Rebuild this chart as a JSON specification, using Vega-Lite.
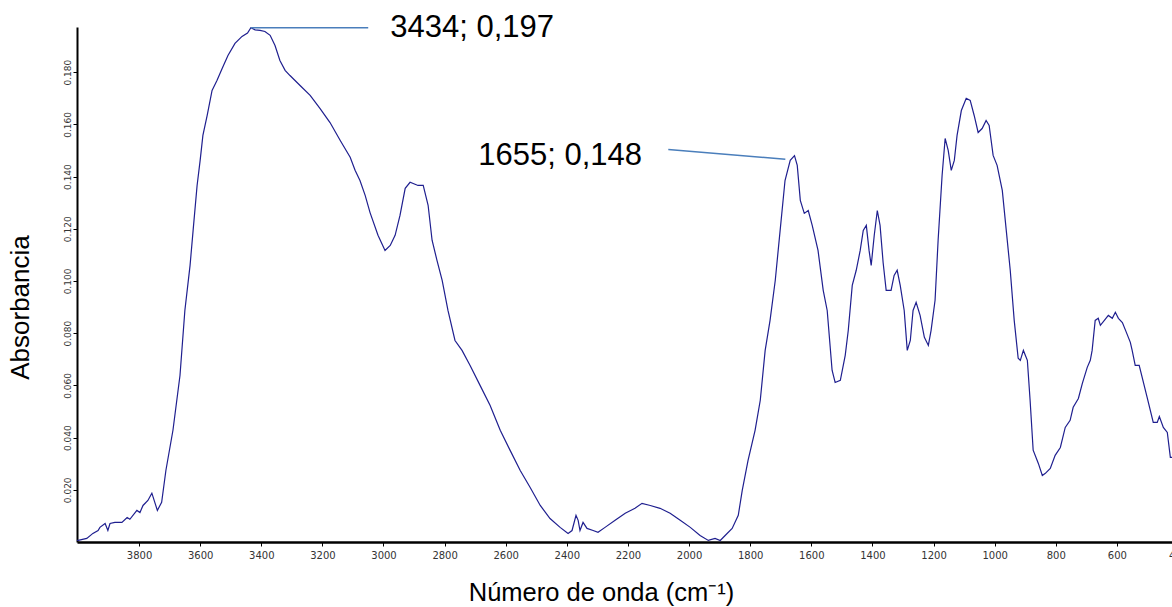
{
  "$schema": "https://vega.github.io/schema/vega-lite/v6.json",
  "width": 1095,
  "height": 515,
  "autosize": {"type": "none"},
  "padding": {"left": 77, "top": 27, "right": 0, "bottom": 65},
  "background": "white",
  "config": {"view": {"stroke": null}},
  "datasets": {
    "spectrum": [
      {"wn": 4003, "abs": 0.0006}, {"wn": 3999, "abs": 0.0006}, {"wn": 3971, "abs": 0.0014}, {"wn": 3951, "abs": 0.0033},
      {"wn": 3934, "abs": 0.0044}, {"wn": 3928, "abs": 0.0056}, {"wn": 3911, "abs": 0.0071}, {"wn": 3902, "abs": 0.0044},
      {"wn": 3895, "abs": 0.0071}, {"wn": 3879, "abs": 0.0075}, {"wn": 3856, "abs": 0.0075}, {"wn": 3839, "abs": 0.0094},
      {"wn": 3830, "abs": 0.0087}, {"wn": 3807, "abs": 0.0121}, {"wn": 3797, "abs": 0.0113}, {"wn": 3787, "abs": 0.014},
      {"wn": 3771, "abs": 0.0159}, {"wn": 3758, "abs": 0.0187}, {"wn": 3740, "abs": 0.0121}, {"wn": 3726, "abs": 0.0152},
      {"wn": 3712, "abs": 0.0275}, {"wn": 3689, "abs": 0.0428}, {"wn": 3666, "abs": 0.0638}, {"wn": 3650, "abs": 0.0887},
      {"wn": 3633, "abs": 0.106}, {"wn": 3623, "abs": 0.1194}, {"wn": 3610, "abs": 0.1366}, {"wn": 3600, "abs": 0.1462},
      {"wn": 3591, "abs": 0.1558}, {"wn": 3577, "abs": 0.1634}, {"wn": 3561, "abs": 0.173}, {"wn": 3545, "abs": 0.1768},
      {"wn": 3528, "abs": 0.1814}, {"wn": 3509, "abs": 0.1864}, {"wn": 3486, "abs": 0.191}, {"wn": 3463, "abs": 0.1937},
      {"wn": 3445, "abs": 0.195}, {"wn": 3434, "abs": 0.197}, {"wn": 3420, "abs": 0.1962}, {"wn": 3404, "abs": 0.196},
      {"wn": 3388, "abs": 0.1956}, {"wn": 3371, "abs": 0.1941}, {"wn": 3355, "abs": 0.1902}, {"wn": 3339, "abs": 0.1845},
      {"wn": 3322, "abs": 0.1807}, {"wn": 3306, "abs": 0.1787}, {"wn": 3273, "abs": 0.1749}, {"wn": 3240, "abs": 0.1711},
      {"wn": 3208, "abs": 0.1661}, {"wn": 3175, "abs": 0.1607}, {"wn": 3142, "abs": 0.1539}, {"wn": 3109, "abs": 0.1474},
      {"wn": 3093, "abs": 0.1424}, {"wn": 3077, "abs": 0.1385}, {"wn": 3060, "abs": 0.1328}, {"wn": 3044, "abs": 0.1262},
      {"wn": 3018, "abs": 0.1175}, {"wn": 2995, "abs": 0.1117}, {"wn": 2978, "abs": 0.1136}, {"wn": 2962, "abs": 0.1175},
      {"wn": 2946, "abs": 0.1251}, {"wn": 2929, "abs": 0.1355}, {"wn": 2913, "abs": 0.1378}, {"wn": 2887, "abs": 0.1366},
      {"wn": 2870, "abs": 0.1366}, {"wn": 2854, "abs": 0.129}, {"wn": 2841, "abs": 0.1156}, {"wn": 2825, "abs": 0.1079},
      {"wn": 2808, "abs": 0.1002}, {"wn": 2789, "abs": 0.0887}, {"wn": 2766, "abs": 0.0772}, {"wn": 2743, "abs": 0.0734},
      {"wn": 2717, "abs": 0.0677}, {"wn": 2684, "abs": 0.06}, {"wn": 2651, "abs": 0.0523}, {"wn": 2618, "abs": 0.0428},
      {"wn": 2586, "abs": 0.0352}, {"wn": 2553, "abs": 0.0275}, {"wn": 2520, "abs": 0.0209}, {"wn": 2487, "abs": 0.014},
      {"wn": 2455, "abs": 0.009}, {"wn": 2422, "abs": 0.0056}, {"wn": 2396, "abs": 0.0033}, {"wn": 2383, "abs": 0.0044},
      {"wn": 2370, "abs": 0.0102}, {"wn": 2363, "abs": 0.0083}, {"wn": 2357, "abs": 0.0044}, {"wn": 2347, "abs": 0.0075},
      {"wn": 2334, "abs": 0.0052}, {"wn": 2314, "abs": 0.0044}, {"wn": 2298, "abs": 0.0037}, {"wn": 2275, "abs": 0.0056},
      {"wn": 2242, "abs": 0.0083}, {"wn": 2209, "abs": 0.011}, {"wn": 2177, "abs": 0.0129}, {"wn": 2154, "abs": 0.0148},
      {"wn": 2127, "abs": 0.014}, {"wn": 2095, "abs": 0.0129}, {"wn": 2062, "abs": 0.011}, {"wn": 2029, "abs": 0.0083},
      {"wn": 1996, "abs": 0.0056}, {"wn": 1964, "abs": 0.0025}, {"wn": 1937, "abs": 0.0006}, {"wn": 1915, "abs": 0.0014},
      {"wn": 1898, "abs": 0.0006}, {"wn": 1882, "abs": 0.0025}, {"wn": 1859, "abs": 0.0052}, {"wn": 1839, "abs": 0.0102},
      {"wn": 1826, "abs": 0.0198}, {"wn": 1807, "abs": 0.0313}, {"wn": 1784, "abs": 0.0428}, {"wn": 1767, "abs": 0.0543},
      {"wn": 1751, "abs": 0.0734}, {"wn": 1735, "abs": 0.0849}, {"wn": 1718, "abs": 0.1002}, {"wn": 1702, "abs": 0.1194},
      {"wn": 1686, "abs": 0.1385}, {"wn": 1669, "abs": 0.1462}, {"wn": 1655, "abs": 0.148}, {"wn": 1646, "abs": 0.1443},
      {"wn": 1636, "abs": 0.1309}, {"wn": 1623, "abs": 0.1259}, {"wn": 1610, "abs": 0.127}, {"wn": 1597, "abs": 0.1213},
      {"wn": 1578, "abs": 0.1117}, {"wn": 1561, "abs": 0.0964}, {"wn": 1548, "abs": 0.0887}, {"wn": 1532, "abs": 0.0658},
      {"wn": 1522, "abs": 0.0611}, {"wn": 1505, "abs": 0.0619}, {"wn": 1489, "abs": 0.0715}, {"wn": 1479, "abs": 0.0811},
      {"wn": 1466, "abs": 0.0983}, {"wn": 1453, "abs": 0.1041}, {"wn": 1440, "abs": 0.1117}, {"wn": 1430, "abs": 0.1194},
      {"wn": 1420, "abs": 0.1213}, {"wn": 1411, "abs": 0.1117}, {"wn": 1404, "abs": 0.106}, {"wn": 1394, "abs": 0.1175},
      {"wn": 1384, "abs": 0.127}, {"wn": 1375, "abs": 0.1213}, {"wn": 1365, "abs": 0.1071}, {"wn": 1355, "abs": 0.0964},
      {"wn": 1339, "abs": 0.0964}, {"wn": 1329, "abs": 0.1021}, {"wn": 1319, "abs": 0.1041}, {"wn": 1309, "abs": 0.0983},
      {"wn": 1296, "abs": 0.0887}, {"wn": 1286, "abs": 0.0734}, {"wn": 1276, "abs": 0.0772}, {"wn": 1267, "abs": 0.0887},
      {"wn": 1257, "abs": 0.0918}, {"wn": 1244, "abs": 0.0868}, {"wn": 1230, "abs": 0.0784}, {"wn": 1217, "abs": 0.0753},
      {"wn": 1208, "abs": 0.0811}, {"wn": 1195, "abs": 0.0926}, {"wn": 1185, "abs": 0.1156}, {"wn": 1172, "abs": 0.1404},
      {"wn": 1162, "abs": 0.1546}, {"wn": 1152, "abs": 0.15}, {"wn": 1142, "abs": 0.1424}, {"wn": 1132, "abs": 0.1462},
      {"wn": 1123, "abs": 0.1558}, {"wn": 1109, "abs": 0.1653}, {"wn": 1093, "abs": 0.17}, {"wn": 1080, "abs": 0.1692},
      {"wn": 1067, "abs": 0.1634}, {"wn": 1054, "abs": 0.1569}, {"wn": 1041, "abs": 0.1584}, {"wn": 1028, "abs": 0.1615},
      {"wn": 1018, "abs": 0.1596}, {"wn": 1005, "abs": 0.1481}, {"wn": 992, "abs": 0.1443}, {"wn": 975, "abs": 0.1347},
      {"wn": 962, "abs": 0.1194}, {"wn": 949, "abs": 0.1041}, {"wn": 936, "abs": 0.0849}, {"wn": 923, "abs": 0.0704},
      {"wn": 916, "abs": 0.0696}, {"wn": 906, "abs": 0.0734}, {"wn": 893, "abs": 0.0696}, {"wn": 884, "abs": 0.0543},
      {"wn": 874, "abs": 0.0352}, {"wn": 857, "abs": 0.0301}, {"wn": 844, "abs": 0.0255}, {"wn": 834, "abs": 0.0263},
      {"wn": 818, "abs": 0.0282}, {"wn": 802, "abs": 0.0332}, {"wn": 785, "abs": 0.0362}, {"wn": 769, "abs": 0.0439},
      {"wn": 753, "abs": 0.0466}, {"wn": 743, "abs": 0.0516}, {"wn": 726, "abs": 0.055}, {"wn": 713, "abs": 0.0608},
      {"wn": 697, "abs": 0.0669}, {"wn": 687, "abs": 0.0696}, {"wn": 681, "abs": 0.0734}, {"wn": 671, "abs": 0.0849},
      {"wn": 661, "abs": 0.0857}, {"wn": 654, "abs": 0.083}, {"wn": 641, "abs": 0.0849}, {"wn": 628, "abs": 0.0868},
      {"wn": 615, "abs": 0.0857}, {"wn": 605, "abs": 0.088}, {"wn": 595, "abs": 0.0857}, {"wn": 582, "abs": 0.0841},
      {"wn": 569, "abs": 0.0803}, {"wn": 556, "abs": 0.0765}, {"wn": 550, "abs": 0.0734}, {"wn": 540, "abs": 0.0677},
      {"wn": 527, "abs": 0.0677}, {"wn": 501, "abs": 0.0554}, {"wn": 481, "abs": 0.0458}, {"wn": 468, "abs": 0.0458},
      {"wn": 461, "abs": 0.0481}, {"wn": 448, "abs": 0.0439}, {"wn": 435, "abs": 0.042}, {"wn": 425, "abs": 0.0324},
      {"wn": 419, "abs": 0.0324}
    ],
    "leaders": [
      {"wn": 3434, "abs": 0.197, "wn2": 3050, "abs2": 0.197},
      {"wn": 1685, "abs": 0.1466, "wn2": 2068, "abs2": 0.1504}
    ],
    "labels": [
      {"wn": 2978, "abs": 0.1968, "label": "3434; 0,197"},
      {"wn": 2690, "abs": 0.1478, "label": "1655; 0,148"}
    ]
  },
  "layer": [
    {
      "data": {"name": "spectrum"},
      "mark": {"type": "line", "color": "#1f1f8f", "strokeWidth": 1.2, "clip": true},
      "encoding": {
        "x": {
          "field": "wn", "type": "quantitative",
          "scale": {"domain": [4003, 400], "range": [0, 1101], "zero": false, "nice": false},
          "axis": {
            "title": "Número de onda (cm⁻¹)",
            "values": [3800, 3600, 3400, 3200, 3000, 2800, 2600, 2400, 2200, 2000, 1800, 1600, 1400, 1200, 1000, 800, 600, 400],
            "format": "d",
            "grid": false,
            "domainColor": "black", "domainWidth": 2.5,
            "tickColor": "black", "tickSize": 4, "tickWidth": 1,
            "labelFont": "DejaVu Sans", "labelFontSize": 10, "labelColor": "#333333",
            "labelPadding": 4, "labelFlush": false, "labelOverlap": false,
            "titleFont": "Liberation Sans", "titleFontSize": 25.5, "titleFontWeight": "normal", "titleColor": "black",
            "titleX": 524, "titleY": 58, "titleBaseline": "alphabetic", "titleAlign": "center"
          }
        },
        "y": {
          "field": "abs", "type": "quantitative",
          "scale": {"domain": [0, 0.1973], "nice": false, "zero": false},
          "axis": {
            "title": "Absorbancia",
            "values": [0.02, 0.04, 0.06, 0.08, 0.1, 0.12, 0.14, 0.16, 0.18],
            "format": ".3f",
            "grid": false,
            "domainColor": "black", "domainWidth": 2,
            "tickColor": "black", "tickSize": 4, "tickWidth": 1,
            "labelFont": "DejaVu Sans", "labelFontSize": 9, "labelColor": "#333333",
            "labelAngle": 270, "labelAlign": "center", "labelBaseline": "bottom", "labelPadding": 1,
            "titleFont": "Liberation Sans", "titleFontSize": 26, "titleFontWeight": "normal", "titleColor": "black",
            "titleAngle": 270, "titleX": -57, "titleY": 280, "titleBaseline": "middle", "titleAlign": "center"
          }
        }
      }
    },
    {
      "data": {"name": "leaders"},
      "mark": {"type": "rule", "color": "#4a7ebb", "strokeWidth": 1.5},
      "encoding": {
        "x": {"field": "wn", "type": "quantitative"},
        "y": {"field": "abs", "type": "quantitative"},
        "x2": {"field": "wn2"},
        "y2": {"field": "abs2"}
      }
    },
    {
      "data": {"name": "labels"},
      "mark": {"type": "text", "align": "left", "baseline": "middle", "font": "Liberation Sans", "fontSize": 31, "color": "black"},
      "encoding": {
        "x": {"field": "wn", "type": "quantitative"},
        "y": {"field": "abs", "type": "quantitative"},
        "text": {"field": "label"}
      }
    }
  ]
}
